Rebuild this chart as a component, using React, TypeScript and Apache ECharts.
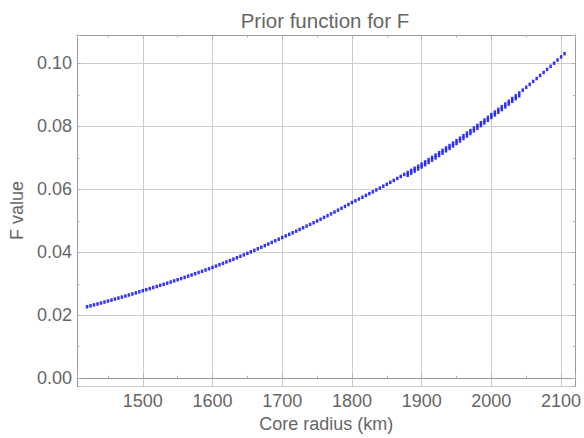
import React, { useEffect, useRef } from "react";
import * as echarts from "echarts";

const TITLE = "Prior function for F";
const X_NAME = "Core radius (km)";
const Y_NAME = "F value";

// Core radius (km) for the main sequence of points
const radii: number[] = [
  1420, 1425, 1430, 1435, 1440, 1445, 1450, 1455, 1460, 1465, 1470, 1475, 1480, 1485, 1490, 1495,
  1500, 1505, 1510, 1515, 1520, 1525, 1530, 1535, 1540, 1545, 1550, 1555, 1560, 1565, 1570, 1575,
  1580, 1585, 1590, 1595, 1600, 1605, 1610, 1615, 1620, 1625, 1630, 1635, 1640, 1645, 1650, 1655,
  1660, 1665, 1670, 1675, 1680, 1685, 1690, 1695, 1700, 1705, 1710, 1715, 1720, 1725, 1730, 1735,
  1740, 1745, 1750, 1755, 1760, 1765, 1770, 1775, 1780, 1785, 1790, 1795, 1800, 1805, 1810, 1815,
  1820, 1825, 1830, 1835, 1840, 1845, 1850, 1855, 1860, 1865, 1870, 1875, 1880, 1885, 1890, 1895,
  1900, 1905, 1910, 1915, 1920, 1925, 1930, 1935, 1940, 1945, 1950, 1955, 1960, 1965, 1970, 1975,
  1980, 1985, 1990, 1995, 2000, 2005, 2010, 2015, 2020, 2025, 2030, 2035, 2040, 2045, 2050, 2055,
  2060, 2065, 2070, 2075, 2080, 2085, 2090, 2095, 2100, 2105,
];

// F value for each radius above
const fValues: number[] = [
  0.02271, 0.023, 0.02329, 0.02359, 0.02389, 0.02419, 0.0245, 0.02481, 0.02513, 0.02545, 0.02577,
  0.0261, 0.02643, 0.02676, 0.0271, 0.02745,
  0.0278, 0.02813, 0.02846, 0.0288, 0.02914, 0.02949, 0.02984, 0.03019, 0.03055, 0.03091, 0.03128,
  0.03165, 0.03203, 0.03241, 0.03279, 0.03318, 0.03357, 0.03397, 0.03438, 0.03478,
  0.0352, 0.03562, 0.03605, 0.03648, 0.03692, 0.03736, 0.03781, 0.03826, 0.03872, 0.03919, 0.03966,
  0.04014, 0.04062, 0.04111, 0.0416, 0.0421, 0.04261, 0.04312, 0.04364, 0.04416,
  0.04469, 0.04519, 0.04569, 0.0462, 0.04672, 0.04724, 0.04777, 0.0483, 0.04884, 0.04938, 0.04993,
  0.05049, 0.05105, 0.05162, 0.0522, 0.05278, 0.05337, 0.05397, 0.05457, 0.05518,
  0.0558, 0.05635, 0.05691, 0.05748, 0.05805, 0.05863, 0.05921, 0.0598, 0.06039, 0.06099, 0.0616,
  0.06221, 0.06283, 0.06345, 0.06408, 0.06472, 0.06536, 0.06601, 0.06667, 0.06733,
  0.068, 0.06871, 0.06943, 0.07015, 0.07088, 0.07162, 0.07237, 0.07313, 0.07389, 0.07466, 0.07544,
  0.07623, 0.07703, 0.07783, 0.07864, 0.07946, 0.08029, 0.08113, 0.08198, 0.08283,
  0.0837, 0.08453, 0.08537, 0.08622, 0.08708, 0.08795, 0.08882, 0.0897, 0.09059, 0.09149, 0.0924,
  0.09332, 0.09425, 0.09519, 0.09614, 0.0971, 0.09807, 0.09905, 0.10004, 0.10104, 0.10205, 0.10307,
];

// Second, slightly lower row of points visible in the upper part of the curve
const radiiLower: number[] = [
  1880, 1885, 1890, 1895, 1900, 1905, 1910, 1915, 1920, 1925, 1930, 1935, 1940, 1945, 1950, 1955,
  1960, 1965, 1970, 1975, 1980, 1985, 1990, 1995, 2000, 2005, 2010, 2015, 2020, 2025, 2030, 2035, 2040,
];
const fValuesLower: number[] = [
  0.06446, 0.06511, 0.06577, 0.06643, 0.0671, 0.06781, 0.06853, 0.06925, 0.06998, 0.07072, 0.07147,
  0.07223, 0.07299, 0.07376, 0.07454, 0.07533, 0.07613, 0.07693, 0.07774, 0.07856, 0.07939, 0.08023,
  0.08108, 0.08193, 0.0828, 0.08363, 0.08447, 0.08532, 0.08618, 0.08705, 0.08792, 0.0888, 0.08969,
];

const X_MIN = 1405.5;
const X_MAX = 2121;
const Y_MIN = -0.0025;
const Y_MAX = 0.109;

const FONT = "'Liberation Sans', Arial, sans-serif";
const TEXT = "#666666";
const FRAME = "#9a9a9a";
const GRID = "#cccccc";
const TICK = "#b0b0b0";
const DOT = "#0000ff";

export default function App() {
  const ref = useRef<HTMLDivElement>(null);

  useEffect(() => {
    if (!ref.current) return;
    const chart = echarts.init(ref.current, undefined, { renderer: "svg" });

    const mainData = radii.map((r, i) => [r, fValues[i]]);
    const lowerData = radiiLower.map((r, i) => [r, fValuesLower[i]]);

    const xLabel = (v: number) => (Math.abs(v % 100) < 1e-6 ? String(v) : "");
    const yLabel = (v: number) => {
      const k = v / 0.02;
      return Math.abs(k - Math.round(k)) < 1e-6 ? v.toFixed(2) : "";
    };

    const baseX = {
      type: "value",
      min: X_MIN,
      max: X_MAX,
      splitNumber: 5,
    };
    const baseY = {
      type: "value",
      min: Y_MIN,
      max: Y_MAX,
      splitNumber: 5,
    };

    chart.setOption({
      animation: false,
      backgroundColor: "#ffffff",
      textStyle: { fontFamily: FONT },
      grid: { left: 74, right: 3, top: 35, bottom: 47, containLabel: false },
      graphic: [
        {
          type: "text",
          x: 325,
          y: 10,
          style: {
            text: TITLE,
            fill: TEXT,
            font: `20.5px ${FONT}`,
            textAlign: "center",
            textVerticalAlign: "top",
          },
        },
      ],
      xAxis: [
        {
          ...baseX,
          position: "bottom",
          name: X_NAME,
          nameLocation: "middle",
          nameGap: 26,
          nameTextStyle: { color: TEXT, fontSize: 18, fontFamily: FONT },
          axisLine: { show: true, lineStyle: { color: FRAME, width: 1 } },
          axisTick: { show: true, inside: true, length: 4, lineStyle: { color: TICK } },
          minorTick: { show: true, splitNumber: 2, length: 2.5, lineStyle: { color: TICK } },
          axisLabel: { color: TEXT, fontSize: 18, fontFamily: FONT, margin: 6, formatter: xLabel },
          splitLine: { show: true, lineStyle: { color: GRID, width: 1 } },
        },
        {
          ...baseX,
          position: "top",
          axisLine: { show: true, onZero: false, lineStyle: { color: FRAME, width: 1 } },
          axisTick: { show: true, inside: true, length: 4, lineStyle: { color: TICK } },
          minorTick: { show: true, splitNumber: 2, length: 2.5, lineStyle: { color: TICK } },
          axisLabel: { show: false },
          splitLine: { show: false },
        },
      ],
      yAxis: [
        {
          ...baseY,
          position: "left",
          name: Y_NAME,
          nameLocation: "middle",
          nameGap: 46,
          nameTextStyle: { color: TEXT, fontSize: 18, fontFamily: FONT },
          axisLine: { show: true, onZero: false, lineStyle: { color: FRAME, width: 1 } },
          axisTick: { show: true, inside: true, length: 4, lineStyle: { color: TICK } },
          minorTick: { show: true, splitNumber: 2, length: 2.5, lineStyle: { color: TICK } },
          axisLabel: { color: TEXT, fontSize: 18, fontFamily: FONT, margin: 5, formatter: yLabel },
          splitLine: { show: true, lineStyle: { color: GRID, width: 1 } },
        },
        {
          ...baseY,
          position: "right",
          axisLine: { show: true, onZero: false, lineStyle: { color: FRAME, width: 1 } },
          axisTick: { show: true, inside: true, length: 4, lineStyle: { color: TICK } },
          minorTick: { show: true, splitNumber: 2, length: 2.5, lineStyle: { color: TICK } },
          axisLabel: { show: false },
          splitLine: { show: false },
        },
      ],
      series: [
        {
          type: "scatter",
          xAxisIndex: 0,
          yAxisIndex: 0,
          data: mainData,
          symbol: "rect",
          symbolSize: [2.5, 3.5],
          itemStyle: { color: DOT },
          silent: true,
        },
        {
          type: "scatter",
          xAxisIndex: 0,
          yAxisIndex: 0,
          data: lowerData,
          symbol: "rect",
          symbolSize: [2.5, 3.5],
          itemStyle: { color: DOT },
          silent: true,
        },
      ],
    });

    return () => chart.dispose();
  }, []);

  return (
    <div
      ref={ref}
      style={{ position: "absolute", left: 0, top: 0, width: 584, height: 438 }}
    />
  );
}
